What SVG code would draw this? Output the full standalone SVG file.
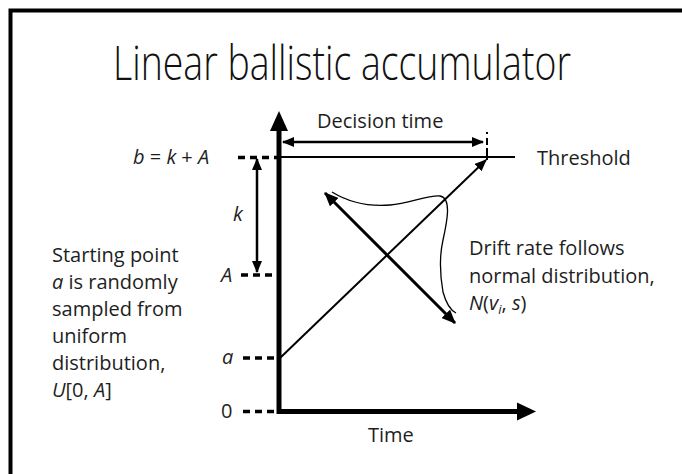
<svg xmlns="http://www.w3.org/2000/svg" width="682" height="474" viewBox="0 0 682 474">
<defs>
<style>
.t{font-family:"Open Sans","Liberation Sans",sans-serif;font-size:20px;fill:#1e1e1e}
.i{font-style:italic}
.ttl{font-family:"Open Sans","Lato","Liberation Sans",sans-serif;font-weight:300;font-size:48px;fill:#111}
.ax{stroke:#000;stroke-width:5;fill:none}
.dash{stroke:#000;stroke-width:3.5;stroke-dasharray:7 5;fill:none}
.ln{stroke:#000;fill:none}
</style>
<marker id="ah" viewBox="0 0 12 10" refX="11" refY="5" markerWidth="12" markerHeight="10" markerUnits="userSpaceOnUse" orient="auto-start-reverse">
<path d="M0,0 L12,5 L0,10 z" fill="#000"/>
</marker>
<marker id="ahb" viewBox="0 0 14 12" refX="13" refY="6" markerWidth="14" markerHeight="12" markerUnits="userSpaceOnUse" orient="auto-start-reverse">
<path d="M0,0 L14,6 L0,12 z" fill="#000"/>
</marker>
</defs>
<rect width="682" height="474" fill="#fff"/>
<rect x="10.5" y="10.5" width="700" height="500" fill="none" stroke="#000" stroke-width="4"/>
<g id="title">
<text class="ttl" transform="translate(113,80) scale(0.76,1)" x="0" y="0" textLength="602.6" lengthAdjust="spacingAndGlyphs">Linear ballistic accumulator</text>
</g>
<g id="axes">
<line class="ax" x1="279" y1="414" x2="279" y2="128"/>
<polygon points="279,111 270,131 288,131" fill="#000"/>
<line class="ax" x1="277" y1="411.5" x2="520" y2="411.5"/>
<polygon points="536,411.5 517,402.5 517,420.5" fill="#000"/>
<text class="t" x="368" y="442">Time</text>
</g>
<g id="ticks">
<line class="dash" x1="238" y1="157.5" x2="277" y2="157.5"/>
<line class="dash" x1="241" y1="275" x2="277" y2="275"/>
<line class="dash" x1="243" y1="358" x2="277" y2="358"/>
<line class="dash" x1="243" y1="411.5" x2="277" y2="411.5"/>
<text class="t" x="133" y="164"><tspan class="i">b</tspan> = <tspan class="i">k</tspan> + <tspan class="i">A</tspan></text>
<text class="t i" x="233" y="221">k</text>
<text class="t i" x="221" y="282">A</text>
<text class="t i" x="222" y="364">a</text>
<text class="t" x="221" y="418">0</text>
</g>
<g id="threshold">
<line class="ln" stroke-width="2" x1="281" y1="157" x2="515" y2="157"/>
<text class="t" x="537" y="165">Threshold</text>
</g>
<g id="decision-time">
<line class="ln" stroke-width="2.5" marker-start="url(#ah)" marker-end="url(#ah)" x1="283" y1="142" x2="483" y2="142"/>
<line class="ln" stroke-width="2" stroke-dasharray="2 4 7 3 12 20" x1="487" y1="132" x2="487" y2="162"/>
<text class="t" x="317" y="128">Decision time</text>
</g>
<g id="k-range">
<line class="ln" stroke-width="2.5" marker-start="url(#ah)" marker-end="url(#ah)" x1="257" y1="159" x2="257" y2="272"/>
</g>
<g id="connectors">
<line class="ln" stroke-width="2" marker-end="url(#ah)" x1="280" y1="358" x2="486" y2="160"/>
<line class="ln" stroke-width="3" marker-start="url(#ahb)" marker-end="url(#ahb)" x1="325" y1="193" x2="455" y2="323"/>
<path class="ln" stroke="#444" stroke-width="1.3" d="M332,192 C345,200 365,207 390,205 C410,203 428,195 440,196 C452,198 447,222 443,240 C439,258 440,275 443,292 C446,303 450,310 456,313"/>
</g>
<g id="starting-point-note">
<text class="t" x="52" y="262">Starting point</text>
<text class="t" x="52" y="289"><tspan class="i">a</tspan> is randomly</text>
<text class="t" x="52" y="316">sampled from</text>
<text class="t" x="52" y="343">uniform</text>
<text class="t" x="52" y="370">distribution,</text>
<text class="t" x="52" y="397"><tspan class="i">U</tspan>[0, <tspan class="i">A</tspan>]</text>
</g>
<g id="drift-note">
<text class="t" x="469" y="255">Drift rate follows</text>
<text class="t" x="469" y="283">normal distribution,</text>
<text class="t" x="469" y="310"><tspan class="i">N</tspan>(<tspan class="i">v</tspan><tspan class="i" font-size="13" dy="4">i</tspan><tspan dy="-4">, </tspan><tspan class="i">s</tspan>)</text>
</g>
</svg>
